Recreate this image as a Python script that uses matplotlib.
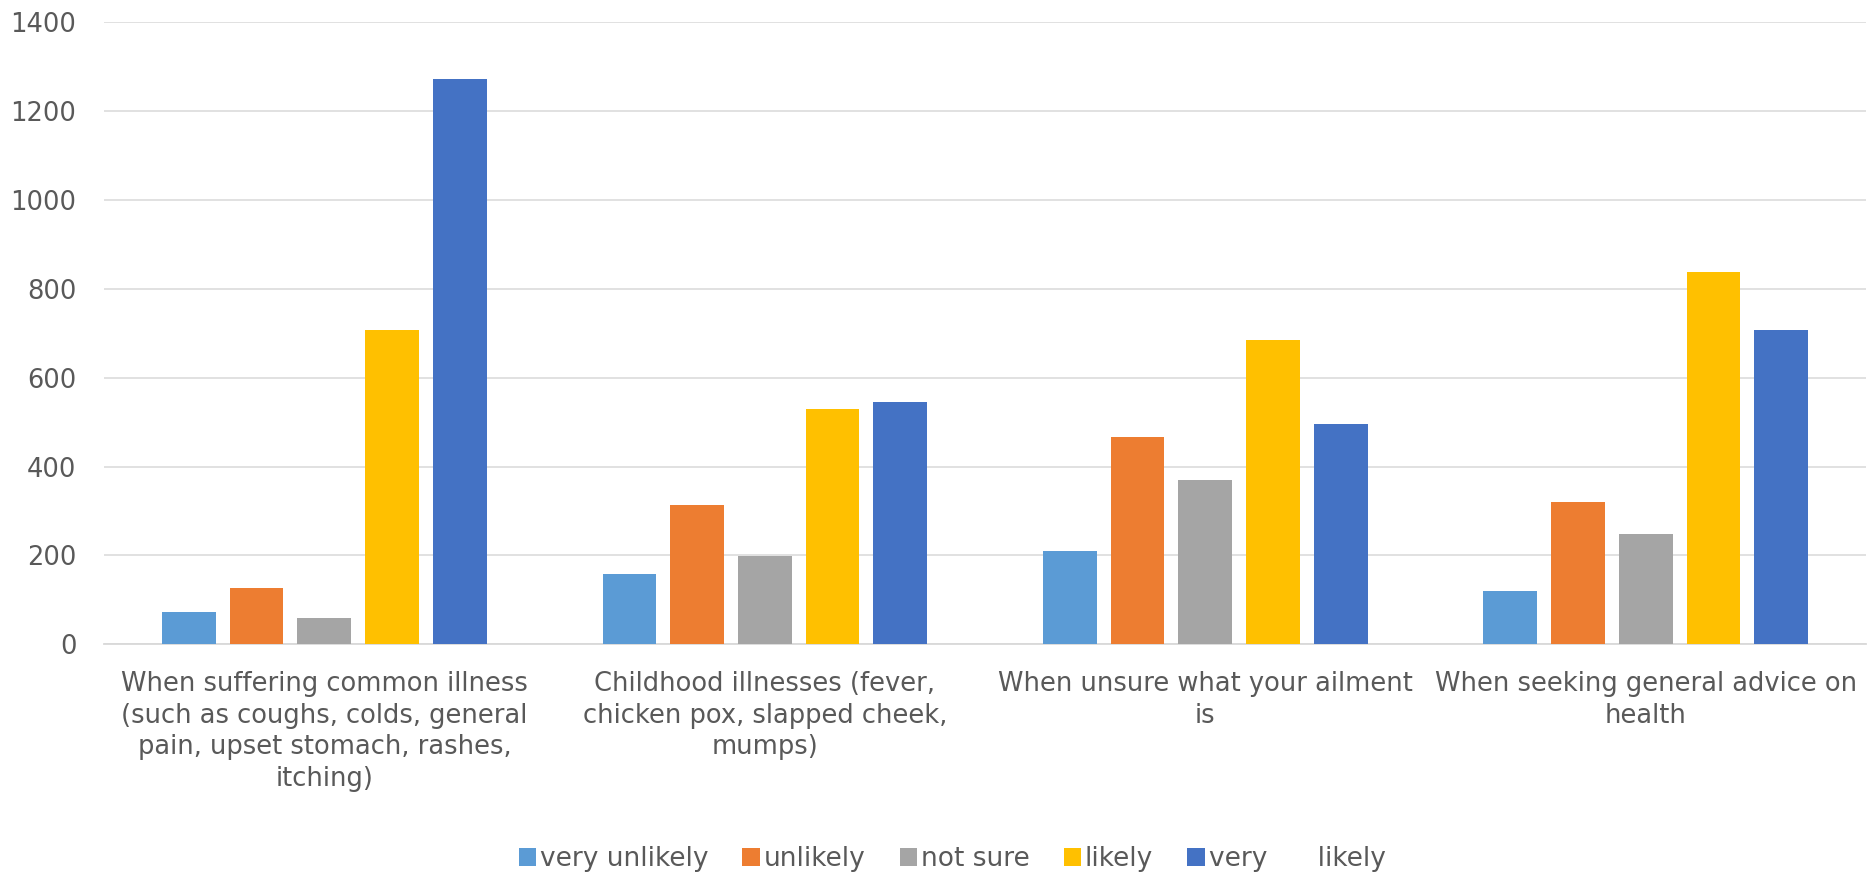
import matplotlib
matplotlib.use("Agg")
import matplotlib.pyplot as plt
import numpy as np

# Survey responses: how likely respondents are to use the service in each situation
categories = [
    "When suffering common illness\n(such as coughs, colds, general\npain, upset stomach, rashes,\nitching)",
    "Childhood illnesses (fever,\nchicken pox, slapped cheek,\nmumps)",
    "When unsure what your ailment\nis",
    "When seeking general advice on\nhealth",
]
series_names = ["very unlikely", "unlikely", "not sure", "likely", "very      likely"]
very_unlikely = [73, 159, 209, 120]
unlikely = [126, 314, 467, 320]
not_sure = [59, 198, 370, 248]
likely = [707, 529, 686, 839]
very_likely = [1273, 546, 496, 707]
y_ticks = [0, 200, 400, 600, 800, 1000, 1200, 1400]

series_values = [very_unlikely, unlikely, not_sure, likely, very_likely]
colors = ["#5B9BD5", "#ED7D31", "#A5A5A5", "#FFC000", "#4472C4"]
text_color = "#595959"
grid_color = "#D9D9D9"

plt.rcParams["font.family"] = ["DejaVu Sans"]

fig = plt.figure(figsize=(18.72, 8.74), dpi=100)
ax = fig.add_axes([0.0556, 0.2628, 0.9412, 0.7117])

x = np.arange(len(categories))
step = 0.1537
width = 0.122
for i, (name, vals, col) in enumerate(zip(series_names, series_values, colors)):
    ax.bar(x + (i - 2) * step, vals, width=width, color=col, label=name,
           zorder=3)

ax.set_xlim(-0.5, len(categories) - 0.5)
ax.set_ylim(0, 1400)
ax.set_yticks(y_ticks)
ax.set_yticklabels([str(v) for v in y_ticks])
ax.set_xticks(x)
ax.set_xticklabels(categories, linespacing=1.27)

ax.grid(axis="y", color=grid_color, linewidth=1.1, zorder=0)
ax.set_axisbelow(True)
for side in ["top", "right", "left"]:
    ax.spines[side].set_visible(False)
ax.spines["bottom"].set_color(grid_color)
ax.spines["bottom"].set_linewidth(1.3)

ax.tick_params(axis="y", length=0, pad=20, labelsize=18.5, labelcolor=text_color)
ax.tick_params(axis="x", length=0, pad=19.5, labelsize=18.5, labelcolor=text_color)

fig.legend(loc="center", bbox_to_anchor=(952 / 1872, 1 - 859 / 874), ncol=5,
           frameon=False, fontsize=19, labelcolor=text_color,
           handlelength=0.65, handleheight=0.65, handletextpad=0.15,
           columnspacing=1.3)

fig.savefig("out.png", dpi=100, facecolor="white")
